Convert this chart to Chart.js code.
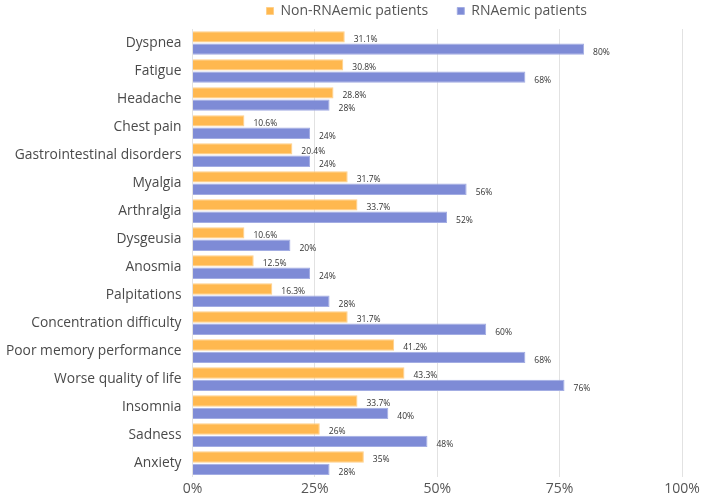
<!DOCTYPE html>
<html>
<head>
<meta charset="utf-8">
<script src="https://cdn.jsdelivr.net/npm/chart.js@4"></script>
<style>
  body { margin: 0; background: #fff; }
  #wrap { width: 714px; height: 500px; }
</style>
</head>
<body>
<div id="wrap"><canvas id="barChart"></canvas></div>
<script>
const symptoms = [
  "Dyspnea", "Fatigue", "Headache", "Chest pain", "Gastrointestinal disorders",
  "Myalgia", "Arthralgia", "Dysgeusia", "Anosmia", "Palpitations",
  "Concentration difficulty", "Poor memory performance", "Worse quality of life",
  "Insomnia", "Sadness", "Anxiety"
];
const nonRnaemic = [31.1, 30.8, 28.8, 10.6, 20.4, 31.7, 33.7, 10.6, 12.5, 16.3, 31.7, 41.2, 43.3, 33.7, 26, 35];
const rnaemic = [80, 68, 28, 24, 24, 56, 52, 20, 24, 28, 60, 68, 76, 40, 48, 28];

// value labels after each bar
const barLabels = {
  id: "barLabels",
  afterDatasetsDraw(chart) {
    const c = chart.ctx;
    c.save();
    c.font = "8.5px 'Open Sans'";
    c.fillStyle = "#333";
    c.textBaseline = "middle";
    chart.data.datasets.forEach((ds, i) => {
      chart.getDatasetMeta(i).data.forEach((bar, j) => {
        c.fillText(ds.data[j] + "%", bar.x + 9, bar.y + 3);
      });
    });
    c.restore();
  }
};

// legend: fixed height, centred a bit left of the plot centre
const tightLegend = {
  id: "tightLegend",
  beforeInit(chart) {
    const fit = chart.legend.fit;
    chart.legend.fit = function () {
      fit.bind(chart.legend)();
      this.height = 54;
    };
  },
  afterLayout(chart) {
    const a = chart.chartArea;
    chart.legend.left = a.left;
    chart.legend.right = a.right - 21;
  }
};

let ctx = document.getElementById("barChart").getContext("2d");
let myChart = new Chart(ctx, {
  type: "bar",
  data: {
    labels: symptoms,
    datasets: [
      {
        label: "Non-RNAemic patients",
        data: nonRnaemic,
        backgroundColor: "#FFB84F",
        borderColor: "#FFD08A",
        borderWidth: 1,
      },
      {
        label: "RNAemic patients",
        data: rnaemic,
        backgroundColor: "#7E8BD6",
        borderColor: "#A3ADE3",
        borderWidth: 1,
      },
    ],
  },
  options: {
    indexAxis: "y",
    responsive: true,
    maintainAspectRatio: false,
    animation: false,
    categoryPercentage: 0.88,
    barPercentage: 0.92,
    layout: { padding: { left: -5, right: 32, top: -25, bottom: 0 } },
    plugins: {
      legend: {
        position: "top",
        align: "center",
        labels: {
          boxWidth: 7,
          boxHeight: 7,
          padding: 29,
          color: "#555",
          font: { family: "'Open Sans'", size: 14 },
        },
      },
      tooltip: { enabled: false },
    },
    scales: {
      x: {
        min: 0,
        max: 100,
        ticks: {
          stepSize: 25,
          callback: (v) => v + "%",
          color: "#555",
          font: { family: "'Open Sans'", size: 14 },
        },
        grid: { color: "#e2e2e2", drawTicks: false },
        border: { display: false },
      },
      y: {
        ticks: {
          color: "#4a4a4a",
          font: { family: "'Open Sans'", size: 13.8 },
          padding: 11,
          autoSkip: false,
        },
        grid: { display: false, drawTicks: false },
        border: { display: false },
      },
    },
  },
  plugins: [barLabels, tightLegend],
});
</script>
</body>
</html>
